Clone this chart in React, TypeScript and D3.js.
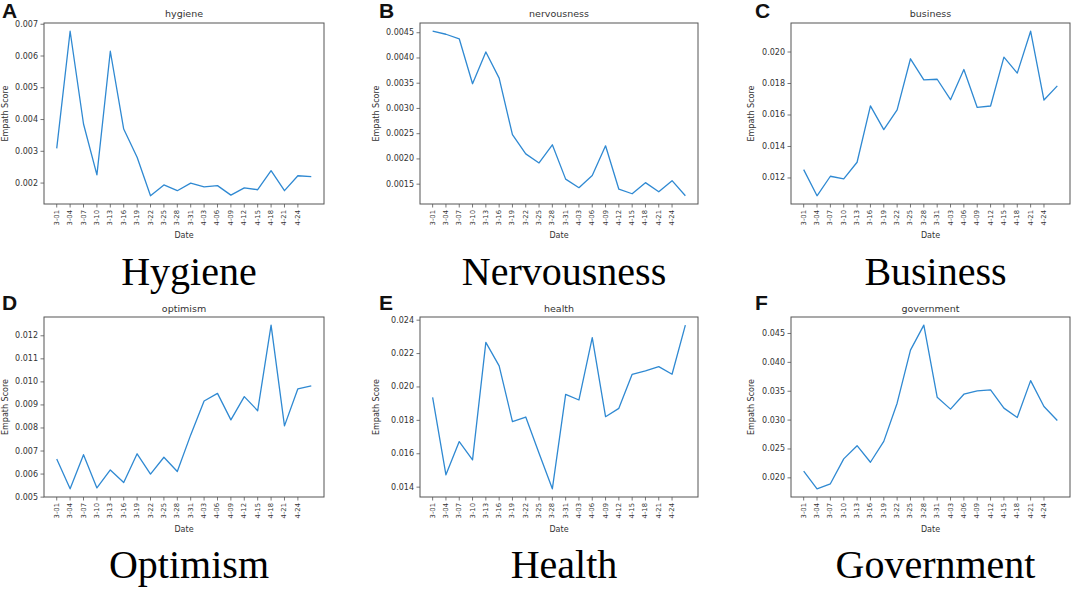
import * as d3 from 'd3';

// dates of the samples (every third day); the last one has no tick label
const dates = [
  '3-01', '3-04', '3-07', '3-10', '3-13', '3-16', '3-19', '3-22', '3-25', '3-28',
  '3-31', '4-03', '4-06', '4-09', '4-12', '4-15', '4-18', '4-21', '4-24', '4-27',
];
const tickLabels = dates.slice(0, 19);

const hygiene = [
  0.00309, 0.00678, 0.00386, 0.00226, 0.00615, 0.0037, 0.00281, 0.0016, 0.00194, 0.00176,
  0.002, 0.00188, 0.00192, 0.00162, 0.00185, 0.00179, 0.00239, 0.00176, 0.00223, 0.0022,
];
const nervousness = [
  0.00453, 0.00447, 0.00438, 0.00349, 0.00412, 0.0036, 0.00248, 0.0021, 0.00192, 0.00228,
  0.0016, 0.00143, 0.00167, 0.00226, 0.0014, 0.00131, 0.00153, 0.00135, 0.00157, 0.00127,
];
const business = [
  0.01253, 0.01087, 0.01211, 0.01194, 0.013, 0.01658, 0.01507, 0.01633, 0.01957, 0.01823,
  0.01827, 0.01697, 0.01889, 0.01648, 0.01657, 0.01968, 0.01866, 0.02132, 0.01695, 0.01785,
];
const optimism = [
  0.00665, 0.00536, 0.00684, 0.0054, 0.00618, 0.00563, 0.00688, 0.006, 0.00673, 0.00611,
  0.0077, 0.00917, 0.0095, 0.00835, 0.00936, 0.00875, 0.01246, 0.00809, 0.0097, 0.00983,
];
const health = [
  0.01938, 0.01474, 0.01673, 0.01563, 0.02267, 0.02126, 0.01793, 0.0182, 0.01603, 0.0139,
  0.01956, 0.01922, 0.02295, 0.01822, 0.01872, 0.02076, 0.02096, 0.02122, 0.02076, 0.0237,
];
const government = [
  0.02115, 0.0181, 0.01897, 0.02328, 0.02557, 0.0227, 0.02632, 0.03293, 0.04213, 0.04644,
  0.03397, 0.0319, 0.03448, 0.03506, 0.03523, 0.03207, 0.03046, 0.03684, 0.03236, 0.02994,
];

const hygieneTicks = [0.002, 0.003, 0.004, 0.005, 0.006, 0.007];
const nervousnessTicks = [0.0015, 0.002, 0.0025, 0.003, 0.0035, 0.004, 0.0045];
const businessTicks = [0.012, 0.014, 0.016, 0.018, 0.02];
const optimismTicks = [0.005, 0.006, 0.007, 0.008, 0.009, 0.01, 0.011, 0.012];
const healthTicks = [0.014, 0.016, 0.018, 0.02, 0.022, 0.024];
const governmentTicks = [0.02, 0.025, 0.03, 0.035, 0.04, 0.045];

const W = 1072;
const H = 590;
const SANS = '"DejaVu Sans", sans-serif';
const LINE = '#2f89d2';
const FRAME = '#555';
const TEXT = '#333';

const rows = [
  { y0: 23, y1: 204, letterY: 18, titleY: 17, dateY: 235, capY: 285 },
  { y0: 317, y1: 497, letterY: 310, titleY: 312, dateY: 529, capY: 578 },
];
const cols = [
  { x0: 44, x1: 324, letterX: 2, ylabelOff: 39 },
  { x0: 420, x1: 698, letterX: 379, ylabelOff: 44 },
  { x0: 791, x1: 1070, letterX: 755, ylabelOff: 40 },
];

const panels = [
  { letter: 'A', title: 'hygiene', caption: 'Hygiene', values: hygiene, ticks: hygieneTicks, decimals: 3 },
  { letter: 'B', title: 'nervousness', caption: 'Nervousness', values: nervousness, ticks: nervousnessTicks, decimals: 4 },
  { letter: 'C', title: 'business', caption: 'Business', values: business, ticks: businessTicks, decimals: 3 },
  { letter: 'D', title: 'optimism', caption: 'Optimism', values: optimism, ticks: optimismTicks, decimals: 3 },
  { letter: 'E', title: 'health', caption: 'Health', values: health, ticks: healthTicks, decimals: 3 },
  { letter: 'F', title: 'government', caption: 'Government', values: government, ticks: governmentTicks, decimals: 3 },
];

function Panel({ p, index }: { p: any; index: number }) {
  const row = rows[Math.floor(index / 3)];
  const col = cols[index % 3];
  const { x0, x1 } = col;
  const { y0, y1 } = row;

  // matplotlib-like 5% margins
  const x = d3.scalePoint<string>().domain(dates).range([x0, x1]).padding(0.95);
  const [lo, hi] = d3.extent(p.values as number[]) as [number, number];
  const pad = (hi - lo) * 0.05;
  const y = d3.scaleLinear().domain([lo - pad, hi + pad]).range([y1, y0]);

  const line = d3.line<number>()
    .x((_d, i) => x(dates[i]) as number)
    .y((d) => y(d));

  const fmt = d3.format(`.${p.decimals}f`);
  const cx = (x0 + x1) / 2;

  return (
    <g>
      <text x={col.letterX} y={row.letterY} fontFamily='"Liberation Sans", Arial, sans-serif'
        fontWeight="bold" fontSize={21} fill="#111">{p.letter}</text>
      <text x={cx} y={row.titleY} textAnchor="middle" fontFamily={SANS} fontSize={9.5} fill={TEXT}>
        {p.title}
      </text>

      <path d={line(p.values) || ''} fill="none" stroke={LINE} strokeWidth={1.3} strokeLinejoin="round" />
      <rect x={x0} y={y0} width={x1 - x0} height={y1 - y0} fill="none" stroke={FRAME} strokeWidth={1} />

      {(p.ticks as number[]).map((t) => (
        <g key={t}>
          <line x1={x0 - 3.5} x2={x0} y1={y(t)} y2={y(t)} stroke={FRAME} strokeWidth={0.8} />
          <text x={x0 - 6} y={y(t)} textAnchor="end" dominantBaseline="central"
            fontFamily={SANS} fontSize={8} fill={TEXT}>{fmt(t)}</text>
        </g>
      ))}

      {tickLabels.map((d) => (
        <g key={d}>
          <line x1={x(d)} x2={x(d)} y1={y1} y2={y1 + 3.5} stroke={FRAME} strokeWidth={0.8} />
          <text transform={`translate(${x(d)},${y1 + 6}) rotate(-90)`} textAnchor="end"
            dominantBaseline="central" fontFamily={SANS} fontSize={6.8} fill={TEXT}>{d}</text>
        </g>
      ))}

      <text x={cx} y={row.dateY} textAnchor="middle" dominantBaseline="central"
        fontFamily={SANS} fontSize={8} fill={TEXT}>Date</text>
      <text transform={`translate(${x0 - col.ylabelOff},${(y0 + y1) / 2}) rotate(-90)`}
        textAnchor="middle" dominantBaseline="central" fontFamily={SANS} fontSize={8} fill={TEXT}>
        Empath Score
      </text>

      <text x={cx + 5} y={row.capY} textAnchor="middle"
        fontFamily='"Liberation Serif", "Times New Roman", serif' fontSize={40} fill="#000">
        {p.caption}
      </text>
    </g>
  );
}

export default function App() {
  return (
    <svg width={W} height={H} viewBox={`0 0 ${W} ${H}`}
      style={{ position: 'absolute', left: 0, top: 0, background: '#fff' }}>
      <rect width={W} height={H} fill="#fff" />
      {panels.map((p, i) => <Panel key={p.letter} p={p} index={i} />)}
    </svg>
  );
}
